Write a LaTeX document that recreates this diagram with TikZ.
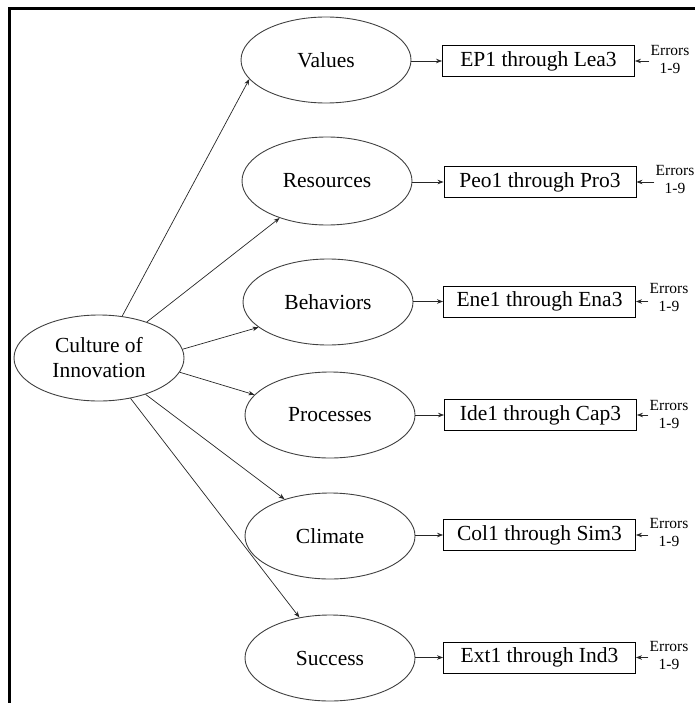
\documentclass[tikz,border=0pt]{standalone}
\usepackage{fontspec}
\setmainfont{Liberation Serif}
\usetikzlibrary{shapes.geometric,arrows.meta}
\begin{document}
\begin{tikzpicture}[x=1bp,y=-1bp,
  latent/.style={ellipse,draw=black!75,line width=0.9bp,minimum width=170bp,minimum height=86bp,inner sep=0pt,
    font=\fontsize{21.5bp}{25bp}\selectfont,align=center},
  indicator/.style={rectangle,draw=black,line width=0.9bp,minimum width=192bp,minimum height=31bp,inner sep=0pt,
    font=\fontsize{21.5bp}{25bp}\selectfont},
  errlabel/.style={inner sep=1bp,align=center,font=\fontsize{15.5bp}{18bp}\selectfont},
  path/.style={draw=black!85,line width=0.7bp,-{Stealth[length=6bp,width=4.5bp]}},
  frame/.style={line width=2.6bp,line cap=rect}]
\useasboundingbox (0,0) rectangle (695,703);
% frame edges
\draw[frame] (9.5,703) -- (9.5,8.5) -- (695,8.5);

% latent construct and its dimensions
\node[latent] (coi) at (99,358) {Culture of\\Innovation};
\node[latent] (val) at (326,60) {Values};
\node[latent,minimum height=88bp] (res) at (327,181) {Resources};
\node[latent] (beh) at (328,302) {Behaviors};
\node[latent] (pro) at (330,415) {Processes};
\node[latent] (cli) at (330,536) {Climate};
\node[latent] (suc) at (330,658) {Success};

% indicator boxes
\node[indicator] (b1) at (538.5,61) {EP1 through Lea3};
\node[indicator] (b2) at (540,182) {Peo1 through Pro3};
\node[indicator] (b3) at (539.5,301.5) {Ene1 through Ena3};
\node[indicator] (b4) at (540.5,415) {Ide1 through Cap3};
\node[indicator] (b5) at (539.5,535) {Col1 through Sim3};
\node[indicator] (b6) at (539.5,657.5) {Ext1 through Ind3};

% error terms
\node[errlabel] (e1) at (670,60) {Errors\\1-9};
\node[errlabel] (e2) at (675,180) {Errors\\1-9};
\node[errlabel] (e3) at (669,297) {Errors\\1-9};
\node[errlabel] (e4) at (669,414) {Errors\\1-9};
\node[errlabel] (e5) at (669,532) {Errors\\1-9};
\node[errlabel] (e6) at (669,655) {Errors\\1-9};

% paths from the construct to its dimensions
\draw[path] (coi.61) -- (val.194);
\draw[path] (coi.37) -- (res.218);
\draw[path] (coi.6) -- (beh.200);
\draw[path] (coi.-10) -- (pro.165);
\draw[path] (coi.-38) -- (cli.141);
\draw[path] (coi.-52) -- (suc.127);

% dimensions to indicators
\draw[path] (val.east |- b1.west) -- (b1.west);
\draw[path] (res.east |- b2.west) -- (b2.west);
\draw[path] (beh.east |- b3.west) -- (b3.west);
\draw[path] (pro.east |- b4.west) -- (b4.west);
\draw[path] (cli.east |- b5.west) -- (b5.west);
\draw[path] (suc.east |- b6.west) -- (b6.west);

% errors to indicators
\foreach \i in {1,...,6}
  \draw[path] (e\i.west |- b\i.east) -- (b\i.east);
\end{tikzpicture}
\end{document}
